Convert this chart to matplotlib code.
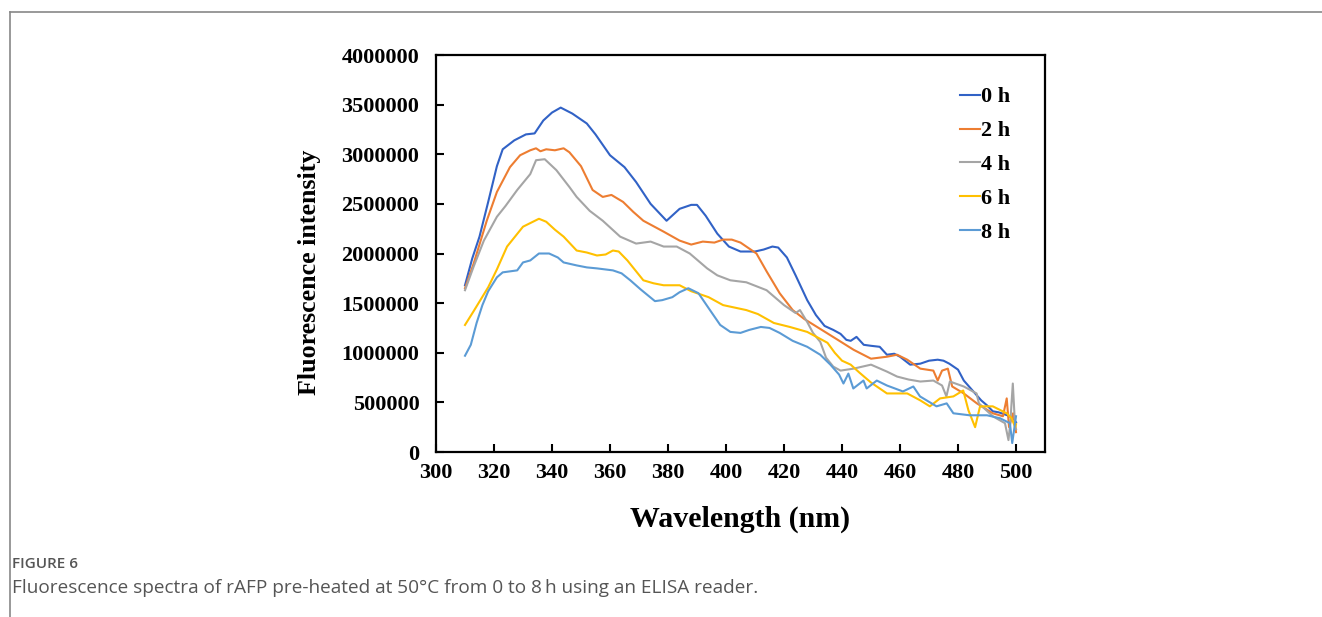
import matplotlib
matplotlib.use("Agg")
import matplotlib.pyplot as plt
from matplotlib.lines import Line2D

# Daten (Wellenlaenge in nm, Intensitaet)
wl_0h = [310, 312.5, 315, 318, 321, 323, 327, 331, 334, 337, 340, 343, 347, 352, 355, 360, 365,
         369, 374, 379.5, 384, 388, 390, 393, 397, 401, 405, 410, 413, 416, 418, 421, 424, 428,
         431, 434, 437, 439.5, 441.5, 443, 445, 447.5, 450, 453, 455.5, 458, 460, 463.5, 467,
         470, 473, 475, 477, 480, 482, 485, 488, 490, 492, 494, 497, 499, 500]
int_0h = [1680000, 1950000, 2170000, 2520000, 2880000, 3050000, 3140000, 3200000, 3210000, 3340000,
          3420000, 3470000, 3410000, 3310000, 3200000, 2990000, 2870000, 2720000, 2500000, 2330000,
          2450000, 2490000, 2490000, 2380000, 2200000, 2070000, 2020000, 2020000, 2040000, 2070000,
          2060000, 1960000, 1780000, 1530000, 1380000, 1270000, 1230000, 1190000, 1130000, 1120000,
          1160000, 1080000, 1070000, 1060000, 980000, 990000, 960000, 880000, 890000, 920000,
          930000, 920000, 890000, 830000, 720000, 620000, 520000, 470000, 410000, 400000, 370000,
          340000, 300000]

wl_2h = [310, 313, 317.5, 321, 325.5, 329, 332.5, 334.5, 336, 338, 341, 344, 346, 350, 354, 357.5,
         360.5, 364.5, 368, 371.5, 378.5, 384, 388, 392, 396, 399, 402, 405, 410.5, 414, 418.5,
         423, 427, 432.5, 438, 444, 450, 455.5, 459, 462.5, 467, 471.5, 473, 474.5, 476.5, 478,
         482, 486.5, 492, 495.5, 496.8, 497.6, 499, 499.7, 500]
int_2h = [1650000, 1900000, 2330000, 2620000, 2870000, 2990000, 3040000, 3060000, 3030000, 3050000,
          3040000, 3060000, 3020000, 2880000, 2640000, 2570000, 2590000, 2520000, 2420000, 2330000,
          2220000, 2130000, 2090000, 2120000, 2110000, 2140000, 2140000, 2110000, 2000000, 1820000,
          1600000, 1430000, 1340000, 1240000, 1140000, 1030000, 940000, 960000, 980000, 930000,
          840000, 820000, 720000, 820000, 840000, 660000, 590000, 490000, 390000, 360000, 540000,
          250000, 390000, 290000, 200000]

wl_4h = [310, 313, 316.5, 321, 324, 328, 332.5, 334.5, 337.5, 341.5, 346, 348.5, 353, 357.5, 363.5,
         369, 374, 378.5, 383, 387.5, 393.5, 397, 401.5, 407, 414, 420, 424, 425.5, 428, 430,
         432.5, 434.5, 437, 439.5, 444, 450, 455.5, 459, 463, 467, 471.5, 474.5, 476, 477.2, 482,
         486.4, 487.2, 492, 496.2, 497.4, 498, 498.9, 499.7, 500]
int_4h = [1630000, 1870000, 2130000, 2370000, 2480000, 2640000, 2800000, 2940000, 2950000, 2840000,
          2670000, 2570000, 2430000, 2330000, 2170000, 2100000, 2120000, 2070000, 2070000, 2000000,
          1850000, 1780000, 1730000, 1710000, 1630000, 1480000, 1400000, 1430000, 1310000, 1200000,
          1110000, 950000, 860000, 820000, 840000, 880000, 810000, 760000, 730000, 710000, 720000,
          670000, 560000, 710000, 660000, 590000, 490000, 360000, 290000, 120000, 280000, 690000,
          250000, 230000]

wl_6h = [310, 313, 318, 321, 324.5, 330, 335.5, 338, 341, 344, 348.5, 352, 355.5, 358.5, 361, 363,
         366, 371.5, 375, 378.5, 384, 388, 394, 399, 407, 411, 416.5, 422, 428, 432.5, 435, 437.5,
         440, 443, 446, 450, 455.5, 462.5, 467, 470.3, 473.8, 478.4, 481.8, 483.6, 485.9, 487.6,
         492, 496.8, 498.5, 499.7, 500]
int_6h = [1280000, 1420000, 1660000, 1840000, 2070000, 2270000, 2350000, 2320000, 2240000, 2170000,
          2030000, 2010000, 1980000, 1990000, 2030000, 2020000, 1930000, 1730000, 1700000, 1680000,
          1680000, 1620000, 1560000, 1480000, 1430000, 1390000, 1300000, 1260000, 1210000, 1140000,
          1100000, 1000000, 920000, 880000, 800000, 700000, 590000, 590000, 520000, 460000, 540000,
          560000, 620000, 420000, 250000, 460000, 460000, 390000, 340000, 250000, 280000]

wl_8h = [310, 312, 314, 316, 318, 321, 323, 328, 330, 332.5, 335.5, 339, 342, 344, 348.5, 352,
         355.5, 361, 364, 367, 370.5, 375.5, 378, 381.5, 384, 387, 390.5, 394, 398, 401.5, 405,
         408, 412, 415, 418.5, 423, 428, 432.5, 436, 439, 440.5, 442.2, 443.9, 447.4, 448.5,
         452, 455.5, 461, 464.6, 466.9, 472.6, 476.1, 478.4, 484, 490, 494.5, 497.9, 498.7, 500]
int_8h = [970000, 1080000, 1300000, 1480000, 1620000, 1760000, 1810000, 1830000, 1910000, 1930000,
          2000000, 2000000, 1960000, 1910000, 1880000, 1860000, 1850000, 1830000, 1800000, 1730000,
          1640000, 1520000, 1530000, 1560000, 1610000, 1650000, 1600000, 1450000, 1280000, 1210000,
          1200000, 1230000, 1260000, 1250000, 1200000, 1120000, 1060000, 980000, 880000, 780000,
          690000, 790000, 640000, 720000, 640000, 720000, 670000, 610000, 660000, 560000, 460000,
          490000, 390000, 370000, 370000, 340000, 290000, 90000, 360000]

series = [
    ("0 h", wl_0h, int_0h, "#3162c6"),
    ("2 h", wl_2h, int_2h, "#ed7d31"),
    ("4 h", wl_4h, int_4h, "#a5a5a5"),
    ("6 h", wl_6h, int_6h, "#ffc000"),
    ("8 h", wl_8h, int_8h, "#5b9bd5"),
]

x_ticks = list(range(300, 501, 20))
y_ticks = list(range(0, 4000001, 500000))

plt.rcParams["font.family"] = "Liberation Serif"
plt.rcParams["font.weight"] = "bold"

fig = plt.figure(figsize=(13.22, 6.17), dpi=100)
ax = fig.add_axes([436 / 1322, 165 / 617, 609 / 1322, 397 / 617])

for name, xs, ys, col in series:
    ax.plot(xs, ys, color=col, lw=1.5, label=name)

ax.set_xlim(300, 510)
ax.set_ylim(0, 4000000)
ax.set_xticks(x_ticks)
ax.set_yticks(y_ticks)
ax.set_xticklabels([str(t) for t in x_ticks])
ax.set_yticklabels([str(t) for t in y_ticks])
ax.tick_params(direction="in", length=6, width=1.5, labelsize=16, pad=8)
ax.tick_params(axis="y", pad=12)
for s in ax.spines.values():
    s.set_linewidth(1.6)

ax.set_xlabel("Wavelength (nm)", fontsize=21.5, fontweight="bold")
ax.xaxis.set_label_coords(0.5, -0.135)
ax.set_ylabel("Fluorescence intensity", fontsize=18.7, fontweight="bold")
ax.yaxis.set_label_coords(-0.189, 0.453)

ax.legend(loc="upper right", bbox_to_anchor=(0.975, 0.97), frameon=False, fontsize=16,
          handlelength=0.9, handletextpad=0.05, labelspacing=0.6)

# Rahmen und Bildunterschrift
fig.add_artist(Line2D([10 / 1322, 10 / 1322], [0, 1 - 12 / 617], transform=fig.transFigure,
                      color="#888888", lw=1.2))
fig.add_artist(Line2D([10 / 1322, 1], [1 - 12 / 617, 1 - 12 / 617], transform=fig.transFigure,
                      color="#888888", lw=1.2))
fig.text(12 / 1322, 1 - 564 / 617, "FIGURE 6", family="Open Sans", fontweight="semibold",
         fontsize=11, color="#555555", va="center")
fig.text(12 / 1322, 1 - 588 / 617,
         "Fluorescence spectra of rAFP pre-heated at 50\u00b0C from 0 to 8\u2009h using an ELISA reader.",
         family="Open Sans", fontweight="normal", fontsize=13.7, color="#555555", va="center")

fig.savefig("out.png", dpi=100)
